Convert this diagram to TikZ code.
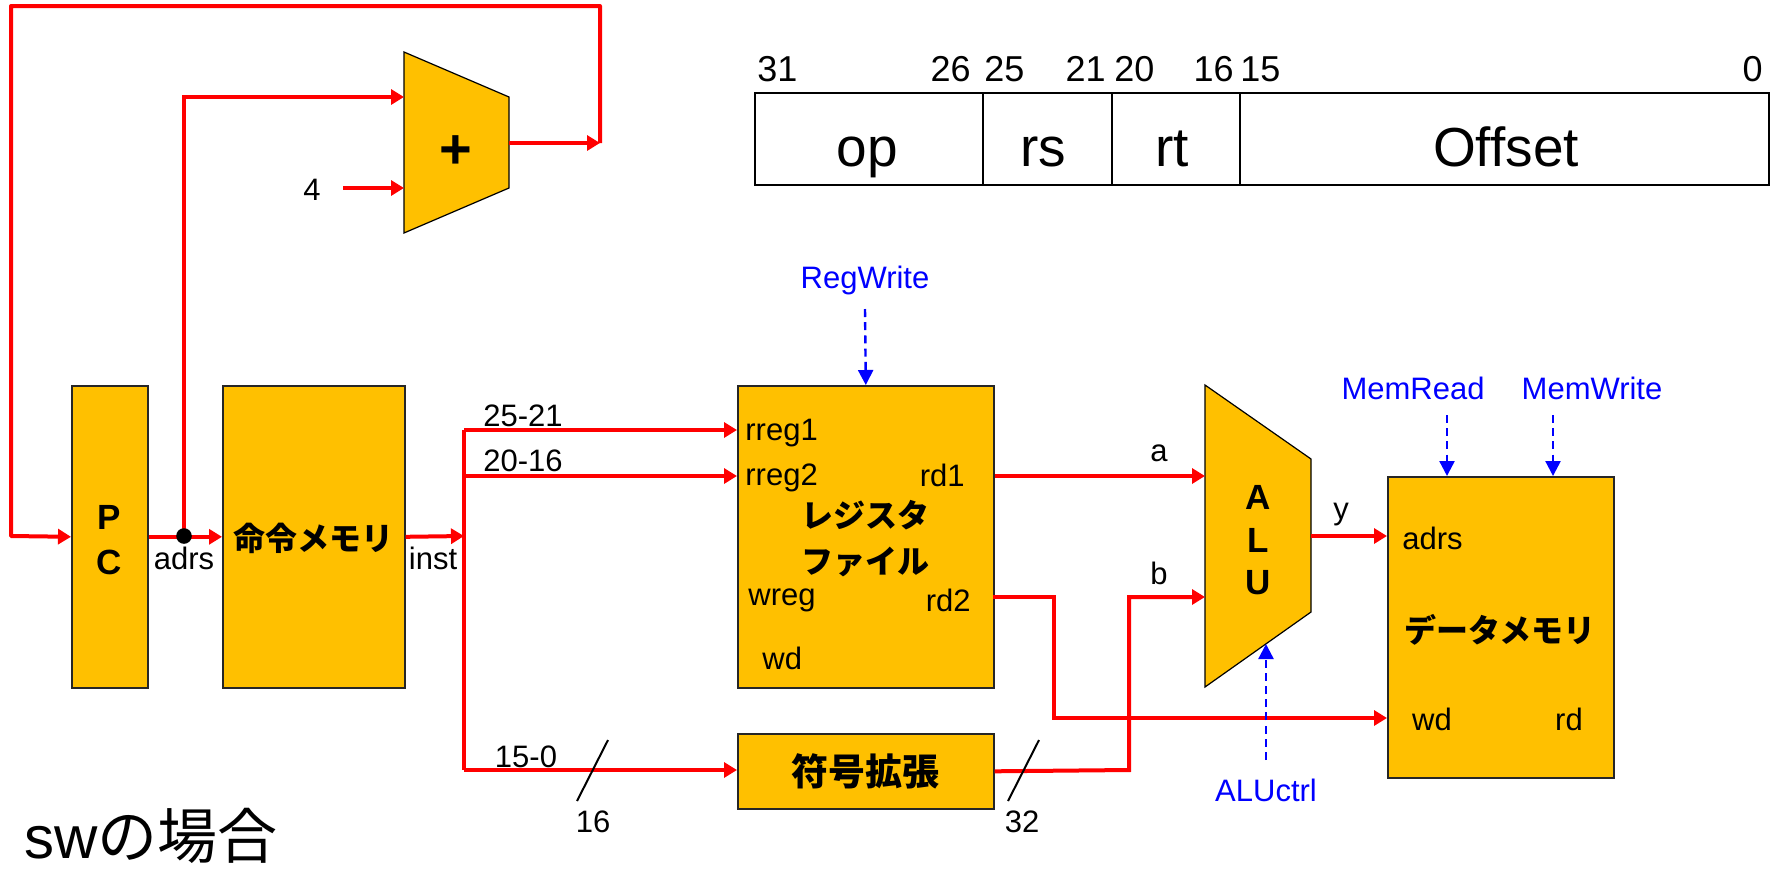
\documentclass[tikz,border=0pt]{standalone}
\usepackage{fontspec}
\setmainfont{Liberation Sans}
\newfontfamily\jp{Noto Sans CJK JP}
\newcommand\jpb{\jp\bfseries}
\usetikzlibrary{arrows.meta}
\definecolor{boxy}{HTML}{FFC000}
\definecolor{sig}{HTML}{FF0000}
\definecolor{ctl}{HTML}{0000FF}
\tikzset{
  box/.style={draw=black!85, line width=0.8pt, fill=boxy, inner sep=0pt, anchor=north west, minimum height=151pt},
  trap/.style={draw=black, line width=0.6pt, fill=boxy},
  cell/.style={draw=black, line width=1pt, inner sep=0pt, anchor=north west, minimum height=46pt},
  wire/.style={draw=sig, line width=2pt},
  warr/.style={wire, -{Triangle[length=6.5pt,width=7.5pt]}},
  carr/.style={draw=ctl, line width=1.2pt, dash pattern=on 4pt off 2.6pt, -{Triangle[length=7.5pt,width=7.5pt]}},
  lbl/.style={inner sep=0pt, font=\fontsize{15.5}{18}\selectfont},
  ctltxt/.style={lbl, text=ctl},
  big/.style={inner sep=0pt, font=\fontsize{17.5}{20}\selectfont\bfseries},
  jpl/.style={inner sep=0pt, font=\fontsize{16}{19}\jpb},
  bitno/.style={inner sep=0pt, font=\fontsize{18}{21}\selectfont},
  field/.style={inner sep=0pt, anchor=base, font=\fontsize{27.5}{31}\selectfont},
  slash/.style={draw=black, line width=1pt}
}
\begin{document}
\begin{tikzpicture}[x=0.5pt,y=-0.5pt]
\useasboundingbox (0,0) rectangle (1786,868);

% ---------- instruction format ----------
\node[cell, minimum width=114pt] (fop) at (754,92) {};
\node[cell, minimum width=64.5pt] (frs) at (982,92) {};
\node[cell, minimum width=64pt] (frt) at (1111,92) {};
\node[cell, minimum width=264.5pt] (foff) at (1239,92) {};
\node[field] (top) at (867,166) {op};
\node[field] (trs) at (1043,166) {rs};
\node[field] (trt) at (1172,166) {rt};
\node[field] (toff) at (1506,166) {Offset};
\node[bitno, anchor=west] (b31) at (757,69) {31};
\node[bitno, anchor=east] (b26) at (971,69) {26};
\node[bitno, anchor=west] (b25) at (984,69) {25};
\node[bitno, anchor=east] (b21) at (1106,69) {21};
\node[bitno, anchor=west] (b20) at (1114,69) {20};
\node[bitno, anchor=east] (b16) at (1234,69) {16};
\node[bitno, anchor=west] (b15) at (1240,69) {15};
\node[bitno, anchor=east] (b0) at (1763,69) {0};

% ---------- boxes ----------
\node[box, minimum width=38pt] (pc) at (71,385) {};
\node[big] (pcP) at (109,517) {P};
\node[big] (pcC) at (109,562) {C};
\node[box, minimum width=91pt] (imem) at (222,385) {};
\node[jpl] (imemt) at (313,538) {命令メモリ};
\node[box, minimum width=128pt] (rf) at (737,385) {};
\node[jpl] (rft1) at (865,515) {レジスタ};
\node[jpl] (rft2) at (865,562) {ファイル};
\node[box, minimum width=128pt, minimum height=37.5pt] (sx) at (737,733) {};
\node[inner sep=0pt, font=\fontsize{18.5}{22}\jpb] (sxt) at (865,771) {符号拡張};
\node[box, minimum width=113pt, minimum height=150.5pt] (dm) at (1387,476) {};
\node[jpl] (dmt) at (1500,630) {データメモリ};

% adder
\coordinate (addtl) at (404,52);
\coordinate (addbl) at (404,233);
\coordinate (addtr) at (509,97);
\coordinate (addbr) at (509,188);
\draw[trap] (addtl) -- (addtr) -- (addbr) -- (addbl) -- cycle;
\node[inner sep=0pt, font=\fontsize{28}{30}\selectfont\bfseries] (plus) at (456,152) {+};
\coordinate (addin1) at (404,97);
\coordinate (addin2) at (404,188);
\coordinate (addout) at (509,143);

% ALU
\coordinate (alutl) at (1205,385);
\coordinate (alubl) at (1205,687);
\coordinate (alutr) at (1311,459);
\coordinate (alubr) at (1311,612);
\draw[trap] (alutl) -- (alutr) -- (alubr) -- (alubl) -- cycle;
\node[big] (aluA) at (1258,497) {A};
\node[big] (aluL) at (1258,540) {L};
\node[big] (aluU) at (1258,583) {U};
\coordinate (alua) at (1205,476);
\coordinate (alub) at (1205,597);
\coordinate (aluy) at (1311,536);
\coordinate (aluc) at (1266,644);

% ---------- labels ----------
\node[lbl] (four) at (312,190) {4};
\node[lbl] (adrs) at (184,558) {adrs};
\node[lbl] (inst) at (433,558) {inst};
\node[lbl] (l2521) at (523,416) {25-21};
\node[lbl] (l2016) at (523,461) {20-16};
\node[lbl] (l150) at (526,757) {15-0};
\node[lbl, anchor=west] (rreg1) at (745,433) {rreg1};
\node[lbl, anchor=west] (rreg2) at (745,478) {rreg2};
\node[lbl, anchor=east] (rd1) at (965,475) {rd1};
\node[lbl, anchor=west] (wreg) at (748,600) {wreg};
\node[lbl, anchor=east] (rd2) at (971,600) {rd2};
\node[lbl, anchor=west] (rfwd) at (762,658) {wd};
\node[lbl] (la) at (1159,453) {a};
\node[lbl] (lb) at (1159,573) {b};
\node[lbl] (ly) at (1341,515) {y};
\node[lbl, anchor=west] (dmadrs) at (1402,538) {adrs};
\node[lbl] (dmwd) at (1432,719) {wd};
\node[lbl] (dmrd) at (1569,719) {rd};
\node[lbl] (n16) at (593,822) {16};
\node[lbl] (n32) at (1022,822) {32};
\node[ctltxt] (regwrite) at (865,280) {RegWrite};
\node[ctltxt] (memread) at (1413,388) {MemRead};
\node[ctltxt] (memwrite) at (1592,388) {MemWrite};
\node[ctltxt] (aluctrl) at (1266,790) {ALUctrl};
\node[inner sep=0pt, anchor=base west, font=\fontsize{30}{34}\selectfont] (title) at (24,858) {sw{\jp の場合}};

% ---------- wires ----------
\coordinate (fbtop) at (600,143);
\coordinate (fbr) at (600,6);
\coordinate (fbl) at (11,6);
\coordinate (fbb) at (11,536);
\draw[warr] (addout) -- (fbtop);
\draw[warr, line join=round] (fbtop) -- (fbr) -- (fbl) -- (fbb) -- (pc.west);
\coordinate (dot) at (184,536);
\draw[warr] (pc.east) -- (imem.west);
\draw[warr] (dot) -- (184,97) -- (addin1);
\fill[black] (dot) circle[radius=3.9pt];
\coordinate (fourr) at (343,188);
\draw[warr] (fourr) -- (addin2);

\coordinate (bus) at (464,536);
\coordinate (bust) at (464,430);
\coordinate (busm) at (464,476);
\coordinate (busb) at (464,770);
\draw[warr] (imem.east) -- (bus);
\draw[wire] (bust) -- (busb);
\draw[warr] (bust) -- (bust -| rf.west);
\draw[warr] (busm) -- (busm -| rf.west);
\draw[warr] (busb) -- (busb -| sx.west);

\draw[warr] (rf.east |- alua) -- (alua);
\coordinate (rd2o) at (993,597);
\coordinate (wdin) at (1387,718);
\draw[warr] (rd2o) -- (1054,597) -- (1054,718) -- (wdin);
\draw[warr] (sx.east) -- (1129,770) -- (1129,597) -- (alub);
\draw[warr] (aluy) -- (aluy -| dm.west);

% control
\draw[carr] (865,309) -- (rf.north);
\draw[carr] (1447,415) -- (1447,476);
\draw[carr] (1553,415) -- (1553,476);
\draw[carr] (1266,760) -- (aluc);

% bus width slashes
\draw[slash] (608,740) -- (577,801);
\draw[slash] (1039,740) -- (1008,801);
\end{tikzpicture}
\end{document}
